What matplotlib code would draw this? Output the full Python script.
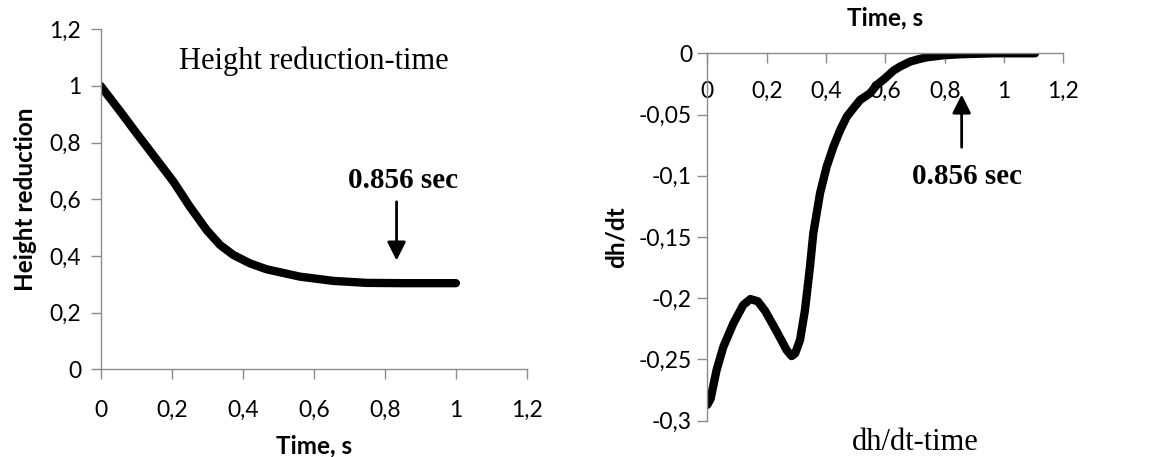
import matplotlib
matplotlib.use('Agg')
from matplotlib import pyplot as plt
from matplotlib.ticker import FuncFormatter

# height reduction vs time (left panel)
h_time = [0.0, 0.054, 0.101, 0.148, 0.205, 0.251, 0.298, 0.336, 0.373, 0.42, 0.467, 0.561, 0.655, 0.749, 0.85, 1.0]
h_value = [1.0, 0.912, 0.833, 0.756, 0.662, 0.574, 0.492, 0.439, 0.404, 0.374, 0.353, 0.327, 0.312, 0.305, 0.304, 0.304]

# dh/dt vs time (right panel)
d_time = [0.0, 0.011, 0.031, 0.054, 0.0876, 0.121, 0.145, 0.17, 0.195, 0.234, 0.267, 0.284, 0.296, 0.3124, 0.329,
          0.346, 0.357, 0.380, 0.402, 0.425, 0.447, 0.470, 0.492, 0.515, 0.548, 0.571, 0.599, 0.627, 0.649,
          0.683, 0.711, 0.739, 0.796, 0.852, 0.964, 1.1045]
d_value = [-0.287, -0.282, -0.2587, -0.2396, -0.2205, -0.2055, -0.2007, -0.2025, -0.2105, -0.2273, -0.2423, -0.2472, -0.245,
           -0.234, -0.2096, -0.174, -0.147, -0.114, -0.0926, -0.0762, -0.063, -0.0517, -0.0449, -0.0381, -0.0327,
           -0.0259, -0.0204, -0.0142, -0.0109, -0.0068, -0.0049, -0.0033, -0.0016, -0.0008, 0.0, 0.0]

h_xticks = [0, 0.2, 0.4, 0.6, 0.8, 1.0, 1.2]
h_yticks = [0, 0.2, 0.4, 0.6, 0.8, 1.0, 1.2]
d_xticks = [0, 0.2, 0.4, 0.6, 0.8, 1.0, 1.2]
d_yticks = [0, -0.05, -0.1, -0.15, -0.2, -0.25, -0.3]

marked_time = 0.856

plt.rcParams['font.family'] = ['Lato', 'DejaVu Sans']
plt.rcParams['font.size'] = 16.5

grey = '#8c8c8c'
comma = FuncFormatter(lambda v, pos: f'{v:g}'.replace('.', ','))
serif = ['Liberation Serif', 'DejaVu Serif']

fig = plt.figure(figsize=(11.53, 4.57), dpi=100)
ax1 = fig.add_axes([0.0873, 0.1919, 0.3697, 0.744])
ax2 = fig.add_axes([0.6135, 0.0794, 0.3088, 0.804])

for ax in (ax1, ax2):
	ax.spines['top'].set_visible(False)
	ax.spines['right'].set_visible(False)
	ax.spines['left'].set_color(grey)
	ax.spines['bottom'].set_color(grey)
	ax.spines['left'].set_linewidth(1.0)
	ax.spines['bottom'].set_linewidth(1.0)
	ax.tick_params(color=grey, length=7, width=1.0, direction='out')
	ax.xaxis.set_major_formatter(comma)
	ax.yaxis.set_major_formatter(comma)

# left panel
ax1.plot(h_time, h_value, color='black', lw=6, solid_capstyle='round', solid_joinstyle='round')
ax1.set_xlim(0, 1.2)
ax1.set_ylim(0, 1.2)
ax1.set_xticks(h_xticks)
ax1.set_yticks(h_yticks)
ax1.tick_params(axis='x', pad=15)
ax1.tick_params(axis='y', pad=7)
ax1.set_xlabel('Time, s', fontsize=17.5, fontweight='bold', labelpad=10)
ax1.set_ylabel('Height reduction', fontsize=17.5, fontweight='bold', labelpad=9)
ax1.text(0.60, 1.086, 'Height reduction-time', family=serif, fontsize=22, ha='center', va='center')
ax1.annotate('', xy=(0.833, 0.374), xytext=(0.833, 0.601),
             arrowprops=dict(arrowstyle='-|>', color='black', lw=2, mutation_scale=28))
ax1.text(0.852, 0.668, f'{marked_time} sec', family=serif, fontsize=21, fontweight='bold', ha='center', va='center')

# right panel
ax2.plot(d_time, d_value, color='black', lw=6, solid_capstyle='round', solid_joinstyle='round')
ax2.set_xlim(0, 1.2)
ax2.set_ylim(-0.3, 0)
ax2.spines['bottom'].set_position(('data', 0))
ax2.set_xticks(d_xticks)
ax2.set_yticks(d_yticks)
ax2.tick_params(axis='x', pad=13)
ax2.tick_params(axis='y', pad=4)
ax2.set_xlabel('Time, s', fontsize=17.5, fontweight='bold', labelpad=20)
ax2.xaxis.set_label_position('top')
ax2.set_ylabel('dh/dt', fontsize=17.5, fontweight='bold', labelpad=8)
ax2.text(0.70, -0.318, 'dh/dt-time', family=serif, fontsize=22, ha='center', va='center')
ax2.annotate('', xy=(0.857, -0.0314), xytext=(0.857, -0.079),
             arrowprops=dict(arrowstyle='-|>', color='black', lw=2, mutation_scale=28))
ax2.text(0.874, -0.1008, f'{marked_time} sec', family=serif, fontsize=21, fontweight='bold', ha='center', va='center')

fig.savefig('out.png', dpi=100)
